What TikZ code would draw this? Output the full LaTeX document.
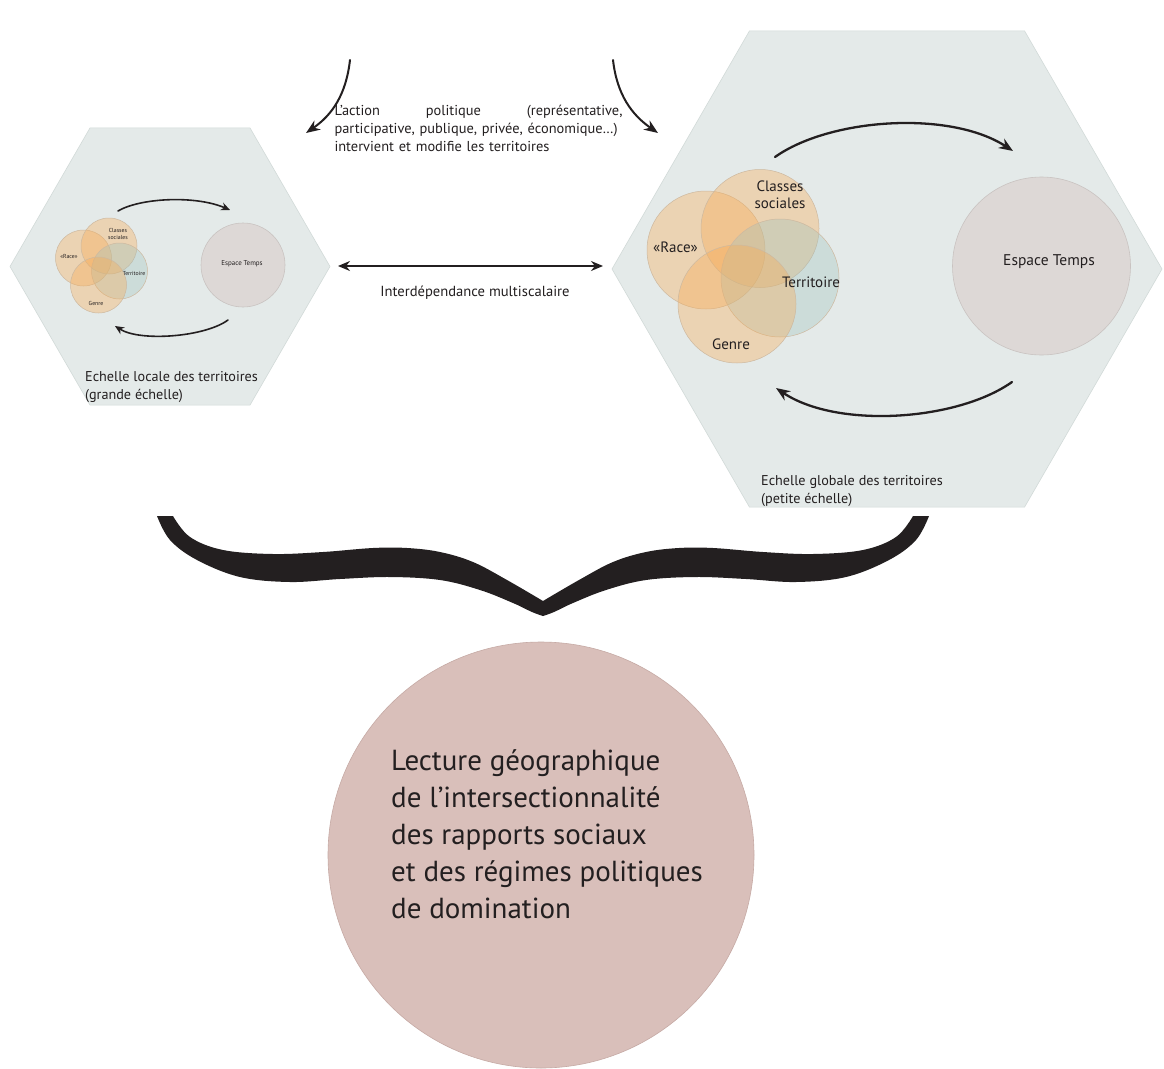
\documentclass[tikz,border=0pt]{standalone}
\usepackage{fontspec}
\setmainfont{PT Sans}
\usetikzlibrary{arrows.meta,shapes.geometric}
\definecolor{hexfill}{HTML}{E4EAE9}
\definecolor{hexline}{HTML}{D2DAD8}
\definecolor{orangeC}{RGB}{250,170,80}
\definecolor{orangeline}{RGB}{205,185,160}
\definecolor{terrC}{RGB}{160,195,190}
\definecolor{espaceC}{HTML}{DDD8D6}
\definecolor{espaceline}{HTML}{C9C3C1}
\definecolor{lectureC}{HTML}{D9BFBA}
\definecolor{lectureline}{HTML}{C6AAA5}
\definecolor{ink}{RGB}{35,31,32}
\tikzset{
  hexa/.style={regular polygon,regular polygon sides=6,draw=hexline,fill=hexfill,line width=0.6pt,inner sep=0pt},
  social/.style={circle,draw=orangeline,fill=orangeC,fill opacity=0.35,inner sep=0pt,line width=0.5pt},
  terr/.style={circle,draw=orangeline,fill=terrC,fill opacity=0.35,inner sep=0pt,line width=0.5pt},
  espace/.style={circle,draw=espaceline,fill=espaceC,inner sep=0pt,line width=0.6pt},
  lab/.style={text=ink,align=center,inner sep=0pt},
  flow/.style={draw=ink,line width=2.3pt,-{Stealth[length=14pt,width=11pt]}},
  smallflow/.style={draw=ink,line width=1.6pt,-{Stealth[length=9pt,width=8pt]}},
}
\begin{document}
\begin{tikzpicture}[x=1pt,y=-1pt,line cap=round,line join=round]
  \useasboundingbox[fill=white] (0,0) rectangle (1164,1068);
  % the two scales
  \node[hexa,minimum size=320pt] (localHex) at (170,266.5) {};
  \node[hexa,minimum size=550pt] (globalHex) at (887,269) {};

  % local scale
  \node[social,minimum size=56pt] (lRace) at (83.5,258) {};
  \node[social,minimum size=56pt] (lClasses) at (109,246) {};
  \node[terr,minimum size=56pt] (lTerr) at (119.5,271) {};
  \node[social,minimum size=56pt] (lGenre) at (98.5,285) {};
  \node[espace,minimum size=84pt] (lEspace) at (243,265) {};
  \node[lab,font=\fontsize{5.8}{6.4}\selectfont] at (118,234) {Classes\\sociales};
  \node[lab,font=\fontsize{5.8}{6.4}\selectfont] at (69,256) {«Race»};
  \node[lab,font=\fontsize{5.8}{6.4}\selectfont] at (134,273) {Territoire};
  \node[lab,font=\fontsize{5.8}{6.4}\selectfont] at (96,303) {Genre};
  \node[lab,font=\fontsize{7}{8}\selectfont] at (242,264) {Espace Temps};
  \coordinate (lTopS) at (118,211);
  \coordinate (lTopE) at (230,210);
  \coordinate (lBotS) at (228,320);
  \coordinate (lBotE) at (115,326);
  \draw[smallflow] (lTopS) .. controls (140,198) and (195,195) .. (lTopE);
  \draw[smallflow] (lBotS) .. controls (205,337) and (140,342) .. (lBotE);
  \node[lab,anchor=west,align=left,font=\fontsize{14.2}{17.5}\selectfont] (localLab) at (85,387) {Echelle locale des territoires\\(grande échelle)};

  % global scale
  \node[social,minimum size=118pt] (gRace) at (706,250) {};
  \node[social,minimum size=118pt] (gClasses) at (760,228.5) {};
  \node[terr,minimum size=118pt] (gTerr) at (780,278) {};
  \node[social,minimum size=118pt] (gGenre) at (737,304) {};
  \node[espace,minimum size=178pt] (gEspace) at (1041.5,266) {};
  \node[lab,font=\fontsize{15}{17}\selectfont] at (780,195) {Classes\\sociales};
  \node[lab,font=\fontsize{15}{17}\selectfont] at (675.5,247) {«Race»};
  \node[lab,font=\fontsize{15}{17}\selectfont] at (811,282) {Territoire};
  \node[lab,font=\fontsize{15}{17}\selectfont] at (731,344) {Genre};
  \node[lab,font=\fontsize{15.5}{17}\selectfont] at (1049,262) {Espace Temps};
  \coordinate (gTopS) at (775,157);
  \coordinate (gTopE) at (1013,151);
  \coordinate (gBotS) at (1012,382);
  \coordinate (gBotE) at (776,388);
  \draw[flow] (gTopS) .. controls (830,118) and (950,110) .. (gTopE);
  \draw[flow] (gBotS) .. controls (957,421) and (837,429) .. (gBotE);
  \node[lab,anchor=west,align=left,font=\fontsize{14.2}{17.5}\selectfont] (globalLab) at (761,491) {Echelle globale des territoires\\(petite échelle)};

  % political action and interdependence
  \node[lab,align=left,text width=288pt,font=\fontsize{14.4}{18}\selectfont] (action) at (478.5,128)
    {L’action\hfill politique\hfill (représentative,\\participative, publique, privée, économique…)\\intervient et modifie les territoires};
  \coordinate (actL) at (350,60);
  \coordinate (actR) at (613,60);
  \coordinate (actLE) at (306,133);
  \coordinate (actRE) at (658,133);
  \draw[flow,line width=2pt] (actL) .. controls (346,95) and (332,115) .. (actLE);
  \draw[flow,line width=2pt] (actR) .. controls (617,95) and (632,115) .. (actRE);
  \coordinate (interL) at (338,266);
  \coordinate (interR) at (603,266);
  \draw[draw=ink,line width=1.5pt,{Stealth[length=12pt,width=10pt]}-{Stealth[length=12pt,width=10pt]}] (interL) -- (interR);
  \node[lab,font=\fontsize{14.6}{16}\selectfont] (interLab) at (475,293) {Interdépendance multiscalaire};

  % brace
  \fill[ink] plot[smooth,tension=0.6] coordinates {(157,516) (170,540) (197,560) (240,577) (290,582) (340,579) (390,577) (440,580) (480,590) (513,603) (532,612) (543,616)}
    -- plot[smooth,tension=0.6] coordinates {(543,616) (554,612) (573,603) (606,590) (646,580) (696,577) (746,579) (796,582) (846,577) (889,560) (916,540) (929,516)}
    -- plot[smooth,tension=0.6] coordinates {(913,516) (896,537) (863,550) (813,554) (763,552) (713,548) (679,548) (646,552) (613,562) (579,580) (543,601)}
    -- plot[smooth,tension=0.6] coordinates {(543,601) (507,580) (473,562) (440,552) (407,548) (373,548) (323,552) (273,554) (223,550) (190,537) (173,516)}
    -- cycle;

  % reading
  \node[circle,draw=lectureline,fill=lectureC,line width=0.6pt,minimum size=426pt,inner sep=0pt] (lecture) at (541,855) {};
  \node[lab,anchor=west,align=left,font=\fontsize{29}{37}\selectfont] (lectureLab) at (391,834)
    {Lecture géographique\\de l’intersectionnalité\\des rapports sociaux\\et des régimes politiques\\de domination};
\end{tikzpicture}
\end{document}
